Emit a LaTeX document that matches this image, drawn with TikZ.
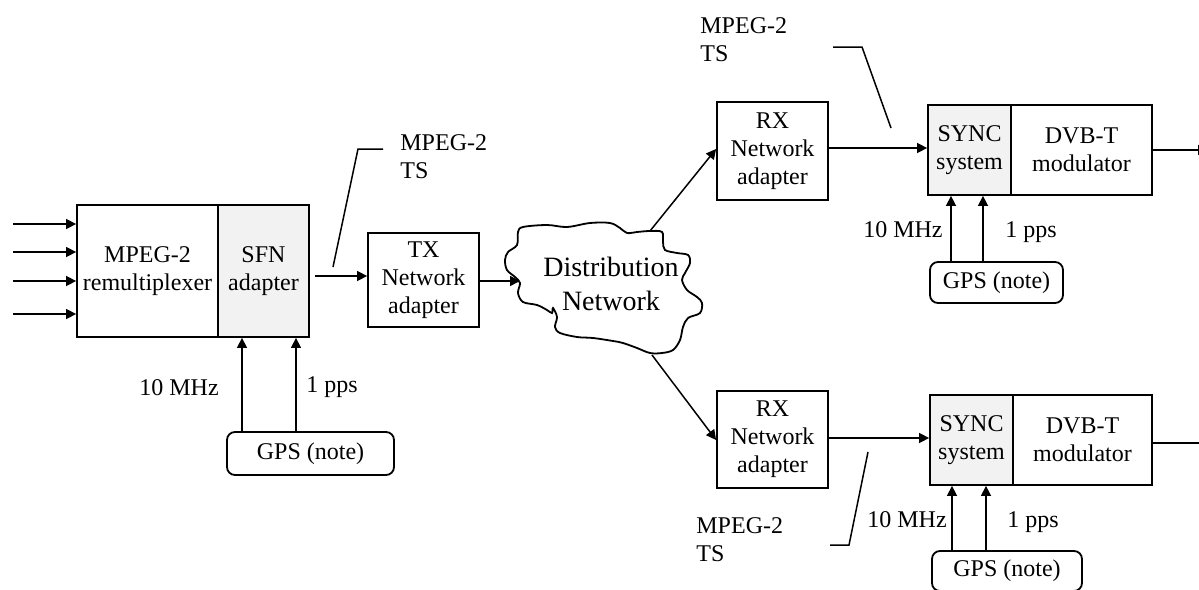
\documentclass[tikz,border=0pt]{standalone}
\usepackage{fontspec}
\setmainfont{Liberation Serif}
\usetikzlibrary{arrows.meta}
\begin{document}
\begin{tikzpicture}[x=0.5pt,y=-0.5pt,
  box/.style={draw,line width=0.9pt,inner sep=0pt,align=center,font=\fontsize{12}{14}\selectfont},
  grey/.style={fill=black!5},
  gpsbox/.style={box,rounded corners=4pt},
  arr/.style={line width=0.75pt,-{Triangle[length=5pt,width=5pt]}},
  ln/.style={line width=0.75pt},
  lbl/.style={inner sep=0pt,font=\fontsize{12}{14}\selectfont}]
\useasboundingbox (0,0) rectangle (1199,589);

% ---- left block
\node[box,minimum width=70.5pt,minimum height=66pt] (mux) at (147.5,271) {MPEG-2\\remultiplexer};
\node[box,grey,minimum width=45.5pt,minimum height=66pt] (sfn) at (263.5,271) {SFN\\adapter};
\node[gpsbox,minimum width=83.5pt,minimum height=21.5pt] (gps1) at (310.5,453.5) {GPS (note)};
\node[box,minimum width=55.5pt,minimum height=47pt] (tx) at (423.5,280) {TX\\Network\\adapter};

% ---- cloud
\draw[line width=0.9pt] plot[smooth cycle, tension=0.55] coordinates {
 (518,232) (523,227) (547,225) (567,227) (590,223) (610,223) (620,228) (627,233)
 (637,232) (650,231) (662,232) (663,242) (665,250) (677,253) (688,255) (690,263)
 (685,273) (682,280) (687,290) (697,297) (702,303) (700,313) (688,318) (683,327)
 (680,340) (673,350) (662,353) (650,353) (637,348) (623,343) (613,341) (593,338)
 (577,337) (560,333) (555,327) (557,317) (553,308) (552,313) (547,310) (537,305)
 (523,302) (518,293) (520,283) (515,277) (507,270) (505,260) (508,252) (517,245)};
\node[inner sep=0pt,align=center,font=\fontsize{14}{17}\selectfont] (cloud) at (611,283.5) {Distribution\\Network};
\coordinate (cin) at (520,281);
\coordinate (ctop) at (650,231);
\coordinate (cbot) at (652,355);

% ---- upper right chain
\node[box,minimum width=55.5pt,minimum height=49pt] (rx1) at (772.5,151) {RX\\Network\\adapter};
\node[box,grey,minimum width=41.5pt,minimum height=45pt] (sync1) at (969.5,150) {SYNC\\system};
\node[box,minimum width=70.5pt,minimum height=45pt] (dvb1) at (1081.5,150) {DVB-T\\modulator};
\node[gpsbox,minimum width=66.5pt,minimum height=20.5pt] (gps2) at (996.5,282.5) {GPS (note)};

% ---- lower right chain
\node[box,minimum width=55.5pt,minimum height=48.5pt] (rx2) at (772.5,439.5) {RX\\Network\\adapter};
\node[box,grey,minimum width=41.5pt,minimum height=45pt] (sync2) at (971.5,440) {SYNC\\system};
\node[box,minimum width=69.5pt,minimum height=45pt] (dvb2) at (1082.5,440) {DVB-T\\modulator};
\node[gpsbox,minimum width=75pt,minimum height=20pt] (gps3) at (1007,571) {GPS (note)};

% ---- input arrows
\foreach \y [count=\i] in {224,252,281,314} {
  \coordinate (in\i) at (13,\y);
  \draw[arr] (in\i) -- (in\i -| mux.west);
}

% ---- main flow
\coordinate (sfnout) at (315,276);
\draw[arr] (sfnout) -- (sfnout -| tx.west);
\coordinate (txout) at (479,281);
\draw[arr] (txout -| tx.east) -- (cin);
\coordinate (rx1in) at (717,149);
\draw[arr] (ctop) -- (rx1in -| rx1.west);
\coordinate (rx2in) at (717,440);
\draw[arr] (cbot) -- (rx2in -| rx2.west);
\coordinate (rx1out) at (828,148);
\draw[arr] (rx1out -| rx1.east) -- (rx1out -| sync1.west);
\coordinate (rx2out) at (828,438);
\draw[arr] (rx2out -| rx2.east) -- (rx2out -| sync2.west);
\coordinate (out1) at (1208,150);
\draw[arr] (out1 -| dvb1.east) -- (out1);
\coordinate (out2) at (1214,443);
\draw[arr] (out2 -| dvb2.east) -- (out2);

% ---- GPS arrows
\coordinate (g1a) at (242,0);  \coordinate (g1b) at (296,0);
\draw[arr] (gps1.north -| g1a) -- (sfn.south -| g1a);
\draw[arr] (gps1.north -| g1b) -- (sfn.south -| g1b);
\coordinate (g2a) at (951,0);  \coordinate (g2b) at (983,0);
\draw[arr] (gps2.north -| g2a) -- (sync1.south -| g2a);
\draw[arr] (gps2.north -| g2b) -- (sync1.south -| g2b);
\coordinate (g3a) at (952,0);  \coordinate (g3b) at (986,0);
\draw[arr] (gps3.north -| g3a) -- (sync2.south -| g3a);
\draw[arr] (gps3.north -| g3b) -- (sync2.south -| g3b);

% ---- signal labels
\node[lbl,anchor=base west] (f1) at (139,395) {10 MHz};
\node[lbl,anchor=base west] (p1) at (306,392) {1 pps};
\node[lbl,anchor=base east] (f2) at (943,237) {10 MHz};
\node[lbl,anchor=base west] (p2) at (1005,237) {1 pps};
\node[lbl,anchor=base west] (f3) at (867,527) {10 MHz};
\node[lbl,anchor=base west] (p3) at (1007,527) {1 pps};

% ---- MPEG-2 TS labels with leader lines
\node[lbl,align=left,anchor=north west] (ts1) at (400,134) {MPEG-2\\TS};
\node[lbl,align=left,anchor=north west] (ts2) at (700,17) {MPEG-2\\TS};
\node[lbl,align=left,anchor=north west] (ts3) at (696,517) {MPEG-2\\TS};
\coordinate (l1a) at (333,267); \coordinate (l1b) at (358,149); \coordinate (l1c) at (383,149);
\draw[ln] (l1a) -- (l1b) -- (l1c);
\coordinate (l2a) at (891,128); \coordinate (l2b) at (862,47); \coordinate (l2c) at (833,47);
\draw[ln] (l2a) -- (l2b) -- (l2c);
\coordinate (l3a) at (868,452); \coordinate (l3b) at (849,545); \coordinate (l3c) at (830,545);
\draw[ln] (l3a) -- (l3b) -- (l3c);
\end{tikzpicture}
\end{document}
